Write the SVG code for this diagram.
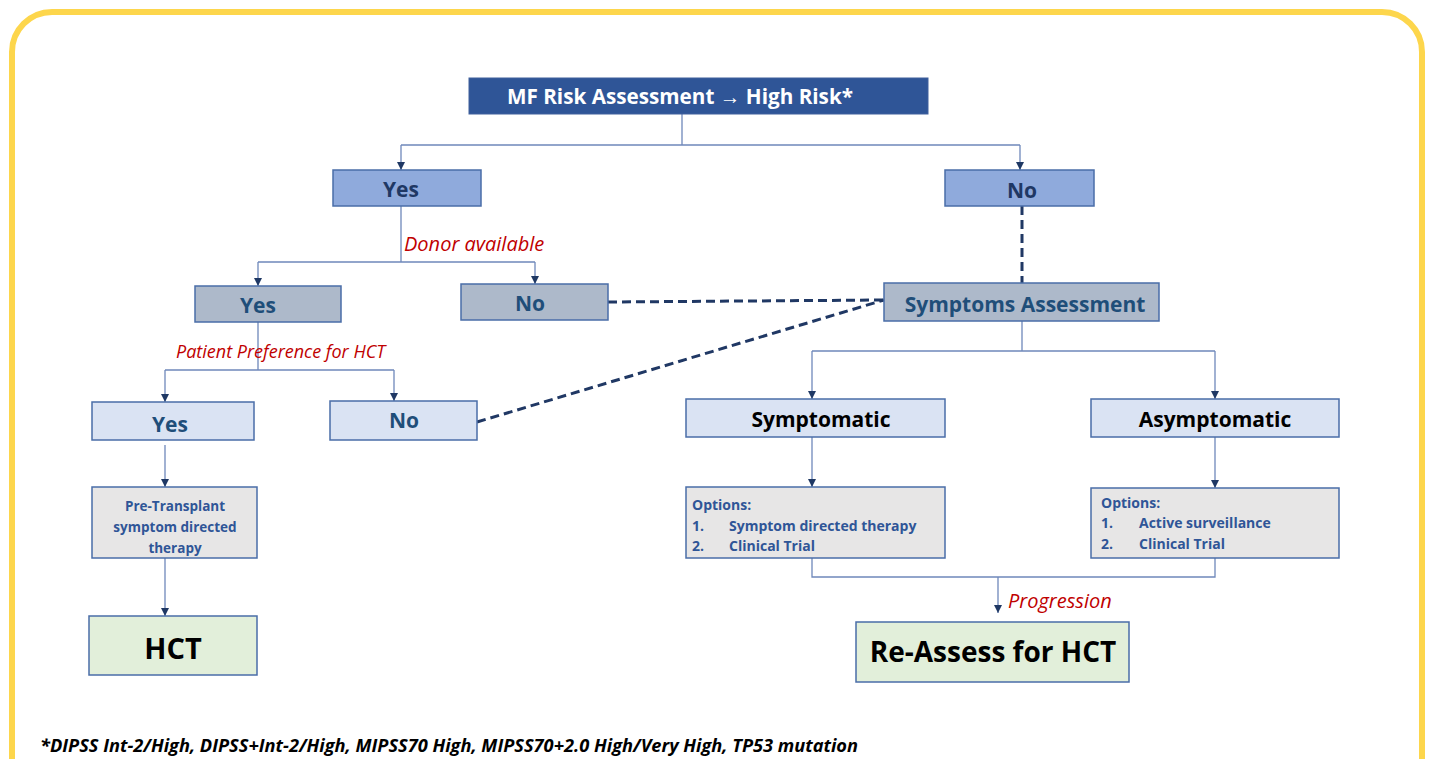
<svg xmlns="http://www.w3.org/2000/svg" width="1429" height="759" viewBox="0 0 1429 759">
<defs>
<marker id="ah" viewBox="0 0 10 10" refX="10" refY="5" markerWidth="8" markerHeight="8" markerUnits="userSpaceOnUse" orient="auto">
<path d="M0,0 L10,5 L0,10 z" fill="#1F3864"/>
</marker>
<style>
.t{font-family:"Open Sans","Liberation Sans",sans-serif;font-weight:bold;text-anchor:middle}
.lbl{font-family:"Open Sans","Liberation Sans",sans-serif;font-style:italic;fill:#C00000;font-size:20px}
.lbl.sm{font-size:18px}
.box{stroke:#4A6DA8;stroke-width:1.5}
.ln{fill:none;stroke:#6F88BB;stroke-width:1.3}
.dash{fill:none;stroke:#203864;stroke-width:3;stroke-dasharray:9 5}
.opt{font-family:"Open Sans","Liberation Sans",sans-serif;font-weight:bold;font-size:14px;fill:#2F5597}
</style>
</defs>
<rect x="0" y="0" width="1429" height="759" fill="#ffffff"/>
<rect x="12" y="12" width="1410" height="800" rx="40" fill="none" stroke="#FDD64C" stroke-width="6"/>

<g id="connectors">
<path class="ln" d="M682,114 V145 M401,145 H1020"/>
<path class="ln" d="M401,145 V170" marker-end="url(#ah)"/>
<path class="ln" d="M1020,145 V170" marker-end="url(#ah)"/>
<path class="ln" d="M401,206 V262 M258,262 H535"/>
<path class="ln" d="M258,262 V286" marker-end="url(#ah)"/>
<path class="ln" d="M535,262 V284" marker-end="url(#ah)"/>
<path class="ln" d="M258,322 V370 M165,370 H394"/>
<path class="ln" d="M165,370 V402" marker-end="url(#ah)"/>
<path class="ln" d="M394,370 V401" marker-end="url(#ah)"/>
<path class="ln" d="M165,445 V487" marker-end="url(#ah)"/>
<path class="ln" d="M165,558 V616" marker-end="url(#ah)"/>
<path class="dash" d="M1022,206 V283"/>
<path class="dash" d="M608,302 L884,300"/>
<path class="dash" d="M477,422 L884,300"/>
<path class="ln" d="M1022,321 V351 M812,351 H1215"/>
<path class="ln" d="M812,351 V399" marker-end="url(#ah)"/>
<path class="ln" d="M1215,351 V399" marker-end="url(#ah)"/>
<path class="ln" d="M812,437 V487" marker-end="url(#ah)"/>
<path class="ln" d="M1215,437 V488" marker-end="url(#ah)"/>
<path class="ln" d="M812,558 V577 H1215 V558"/>
<path class="ln" d="M998,577 V613" marker-end="url(#ah)"/>
<text class="lbl" x="404" y="251">Donor available</text>
<text class="lbl sm" x="176" y="358">Patient Preference for HCT</text>
<text class="lbl" x="1008" y="608">Progression</text>
</g>

<g id="n-top">
<rect x="469" y="78" width="459" height="36" fill="#2F5597" stroke="#41619C" stroke-width="1"/>
<text class="t" x="680" y="104" font-size="20.7" fill="#ffffff">MF Risk Assessment → High Risk*</text>
</g>
<g id="n-yes1">
<rect class="box" x="333" y="170" width="148" height="36" fill="#8FAADC"/>
<text class="t" x="401" y="197" font-size="21" fill="#1F3864">Yes</text>
</g>
<g id="n-no1">
<rect class="box" x="945" y="170" width="149" height="36" fill="#8FAADC"/>
<text class="t" x="1022" y="198" font-size="21" fill="#1F3864">No</text>
</g>
<g id="n-yes2">
<rect class="box" x="195" y="286" width="146" height="36" fill="#ADB9CA"/>
<text class="t" x="258" y="313" font-size="21" fill="#1F4E79">Yes</text>
</g>
<g id="n-no2">
<rect class="box" x="461" y="284" width="147" height="36" fill="#ADB9CA"/>
<text class="t" x="530" y="311" font-size="21" fill="#1F4E79">No</text>
</g>
<g id="n-yes3">
<rect class="box" x="92" y="402" width="162" height="38" fill="#DAE3F3"/>
<text class="t" x="170" y="432" font-size="21" fill="#1F4E79">Yes</text>
</g>
<g id="n-no3">
<rect class="box" x="330" y="401" width="147" height="39" fill="#DAE3F3"/>
<text class="t" x="404" y="428" font-size="21" fill="#1F4E79">No</text>
</g>
<g id="n-pre">
<rect class="box" x="92" y="487" width="165" height="71" fill="#E7E6E6"/>
<text class="t" x="175" y="511" font-size="13.5" fill="#2F5597">Pre-Transplant</text>
<text class="t" x="175" y="532" font-size="13.5" fill="#2F5597">symptom directed</text>
<text class="t" x="175" y="553" font-size="13.5" fill="#2F5597">therapy</text>
</g>
<g id="n-hct">
<rect class="box" x="89" y="616" width="168" height="59" fill="#E2EFDA"/>
<text class="t" x="173" y="659" font-size="29" fill="#000000">HCT</text>
</g>
<g id="n-symass">
<rect class="box" x="884" y="283" width="275" height="38" fill="#ADB9CA"/>
<text class="t" x="1025" y="312" font-size="21" fill="#1F4E79">Symptoms Assessment</text>
</g>
<g id="n-sym">
<rect class="box" x="686" y="399" width="259" height="38" fill="#DAE3F3"/>
<text class="t" x="821" y="427" font-size="21" fill="#000000">Symptomatic</text>
</g>
<g id="n-asym">
<rect class="box" x="1091" y="399" width="248" height="38" fill="#DAE3F3"/>
<text class="t" x="1215" y="427" font-size="21" fill="#000000">Asymptomatic</text>
</g>
<g id="n-opt1">
<rect class="box" x="686" y="487" width="259" height="71" fill="#E7E6E6"/>
<text class="opt" x="692" y="510">Options:</text>
<text class="opt" x="692" y="531">1.</text>
<text class="opt" x="729" y="531">Symptom directed therapy</text>
<text class="opt" x="692" y="551">2.</text>
<text class="opt" x="729" y="551">Clinical Trial</text>
</g>
<g id="n-opt2">
<rect class="box" x="1091" y="488" width="248" height="70" fill="#E7E6E6"/>
<text class="opt" x="1101" y="508">Options:</text>
<text class="opt" x="1101" y="528">1.</text>
<text class="opt" x="1139" y="528">Active surveillance</text>
<text class="opt" x="1101" y="549">2.</text>
<text class="opt" x="1139" y="549">Clinical Trial</text>
</g>
<g id="n-reassess">
<rect class="box" x="856" y="622" width="273" height="60" fill="#E2EFDA"/>
<text class="t" x="993" y="662" font-size="28" fill="#000000">Re-Assess for HCT</text>
</g>
<g id="footnote">
<text x="40" y="752" font-family="Open Sans, Liberation Sans, sans-serif" font-weight="bold" font-style="italic" font-size="17.5" fill="#000000" textLength="818" lengthAdjust="spacingAndGlyphs">*DIPSS Int-2/High, DIPSS+Int-2/High, MIPSS70 High, MIPSS70+2.0 High/Very High, TP53 mutation</text>
</g>
</svg>
